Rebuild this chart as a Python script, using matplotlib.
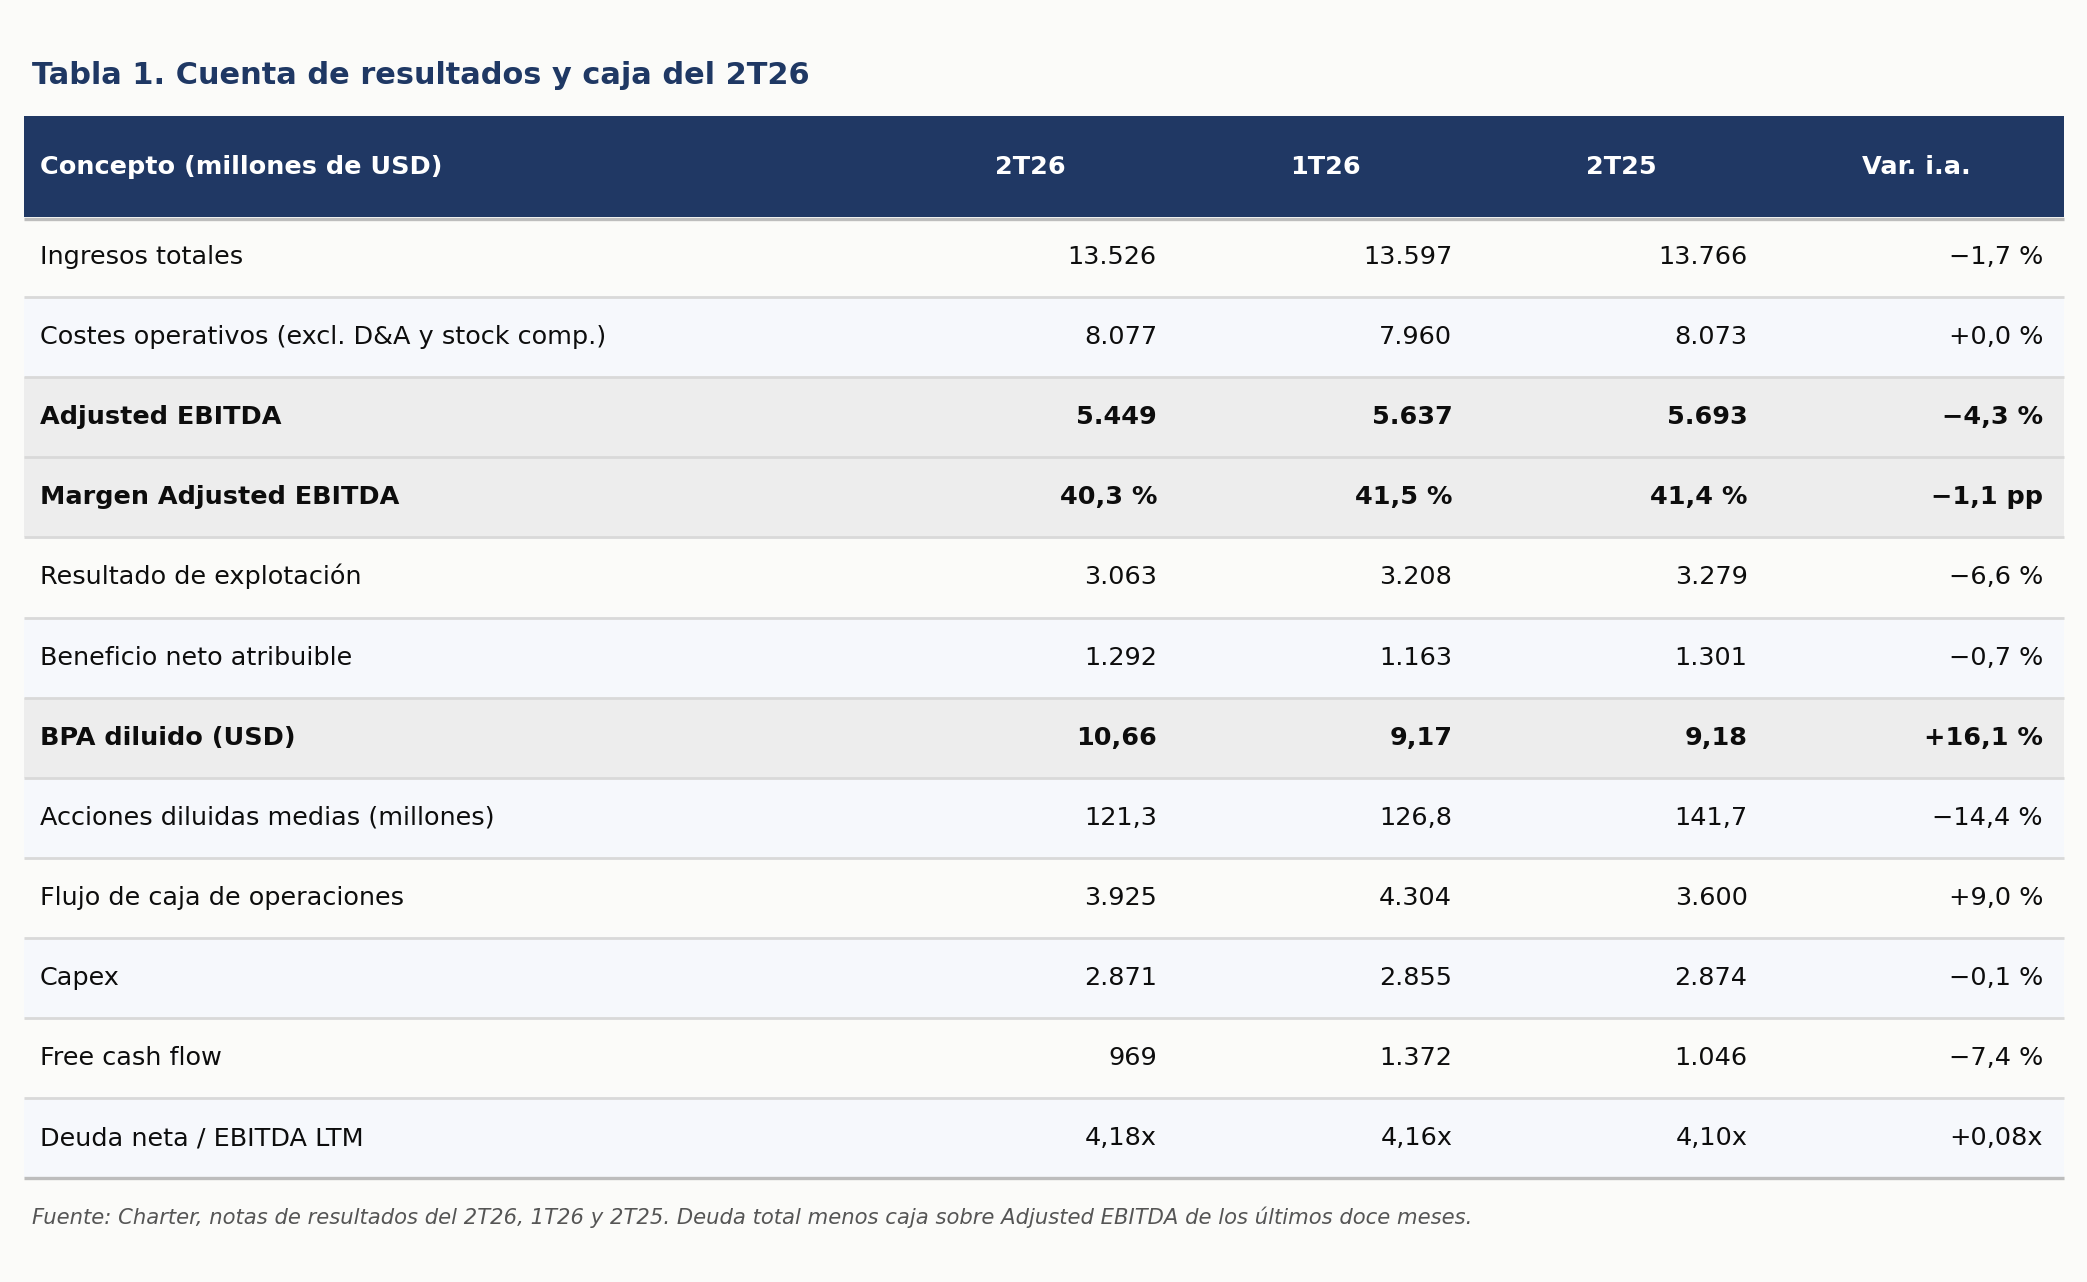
import matplotlib
matplotlib.use("Agg")
from matplotlib import pyplot as plt
from matplotlib.patches import Rectangle

# ---- data ----
title = "Tabla 1. Cuenta de resultados y caja del 2T26"
columns = ["Concepto (millones de USD)", "2T26", "1T26", "2T25", "Var. i.a."]
labels = [
    "Ingresos totales",
    "Costes operativos (excl. D&A y stock comp.)",
    "Adjusted EBITDA",
    "Margen Adjusted EBITDA",
    "Resultado de explotación",
    "Beneficio neto atribuible",
    "BPA diluido (USD)",
    "Acciones diluidas medias (millones)",
    "Flujo de caja de operaciones",
    "Capex",
    "Free cash flow",
    "Deuda neta / EBITDA LTM",
]
q2_26 = [13526, 8077, 5449, 40.3, 3063, 1292, 10.66, 121.3, 3925, 2871, 969, 4.18]
q1_26 = [13597, 7960, 5637, 41.5, 3208, 1163, 9.17, 126.8, 4304, 2855, 1372, 4.16]
q2_25 = [13766, 8073, 5693, 41.4, 3279, 1301, 9.18, 141.7, 3600, 2874, 1046, 4.10]
var_ia = [-1.7, 0.0, -4.3, -1.1, -6.6, -0.7, 16.1, -14.4, 9.0, -0.1, -7.4, 0.08]
# how each row is written
value_fmt = ["int", "int", "int", "pct", "int", "int", "dec2", "dec1", "int", "int", "int", "x"]
var_fmt = ["pct", "pct", "pct", "pp", "pct", "pct", "pct", "pct", "pct", "pct", "pct", "x"]
highlight = [False, False, True, True, False, False, True, False, False, False, False, False]
footnote = ("Fuente: Charter, notas de resultados del 2T26, 1T26 y 2T25. "
            "Deuda total menos caja sobre Adjusted EBITDA de los últimos doce meses.")


def es_num(v, dec):
    s = f"{abs(v):,.{dec}f}"
    s = s.replace(",", "X").replace(".", ",").replace("X", ".")
    return s


def fmt_value(v, kind):
    if kind == "int":
        return es_num(v, 0)
    if kind == "pct":
        return es_num(v, 1) + " %"
    if kind == "dec2":
        return es_num(v, 2)
    if kind == "dec1":
        return es_num(v, 1)
    if kind == "x":
        return es_num(v, 2) + "x"
    return str(v)


def fmt_var(v, kind):
    sign = "\u2212" if v < 0 else "+"
    if kind == "pct":
        return sign + es_num(v, 1) + " %"
    if kind == "pp":
        return sign + es_num(v, 1) + " pp"
    return sign + es_num(v, 2) + "x"


# ---- style ----
BG = "#fbfbf9"
NAVY = "#203864"
ALT = "#f6f8fc"
HIGH = "#ededed"
LINE = "#d9d9d9"
RULE = "#bdbdbd"
TEXT = "#0d0d0d"

W, H = 2087, 1282
left, right = 24, 2064
head_top, head_bot = 116, 217
row_h = 80.1
first_col_right = 882.5
col_w = (right - first_col_right) / 4
fs = 18.35
pad = 21

fig = plt.figure(figsize=(W / 100, H / 100), dpi=100, facecolor=BG)
ax = fig.add_axes([0, 0, 1, 1])
ax.set_xlim(0, W)
ax.set_ylim(H, 0)
ax.axis("off")

ax.text(32, 84, title, fontsize=21.9, fontweight="bold", color="#1f3864",
        ha="left", va="baseline")

# header
ax.add_patch(Rectangle((left, head_top), right - left, head_bot - head_top,
                       facecolor=NAVY, edgecolor="none"))
hc = (head_top + head_bot) / 2 + 7.5
ax.text(40, hc, columns[0], fontsize=fs, fontweight="bold", color="white",
        ha="left", va="baseline")
for j, col in enumerate(columns[1:]):
    cx = first_col_right + col_w * (j + 0.5)
    ax.text(cx, hc, col, fontsize=fs, fontweight="bold", color="white",
            ha="center", va="baseline")

# body rows
series = [q2_26, q1_26, q2_25]
for i, lab in enumerate(labels):
    top = head_bot + i * row_h
    if highlight[i]:
        fc = HIGH
    elif i % 2 == 1:
        fc = ALT
    else:
        fc = BG
    ax.add_patch(Rectangle((left, top), right - left, row_h,
                           facecolor=fc, edgecolor="none"))
    if i > 0:
        ax.plot([left, right], [top, top], color=LINE, lw=2, solid_capstyle="butt")
    wt = "bold" if highlight[i] else "normal"
    by = top + row_h / 2 + 7
    ax.text(40, by, lab, fontsize=fs, fontweight=wt, color=TEXT,
            ha="left", va="baseline")
    cells = [fmt_value(s[i], value_fmt[i]) for s in series]
    cells.append(fmt_var(var_ia[i], var_fmt[i]))
    for j, c in enumerate(cells):
        rx = first_col_right + col_w * (j + 1) - pad
        ax.text(rx, by, c, fontsize=fs, fontweight=wt, color=TEXT,
                ha="right", va="baseline")

# rules
ax.plot([left, right], [head_bot + 1.5, head_bot + 1.5], color=RULE, lw=2.4,
        solid_capstyle="butt")
bottom = head_bot + len(labels) * row_h
ax.plot([left, right], [bottom, bottom], color=RULE, lw=2.4, solid_capstyle="butt")

ax.text(32, 1224, footnote, fontsize=15.2, fontstyle="italic", color="#555555",
        ha="left", va="baseline")

fig.savefig("out.png", dpi=100, facecolor=BG)
